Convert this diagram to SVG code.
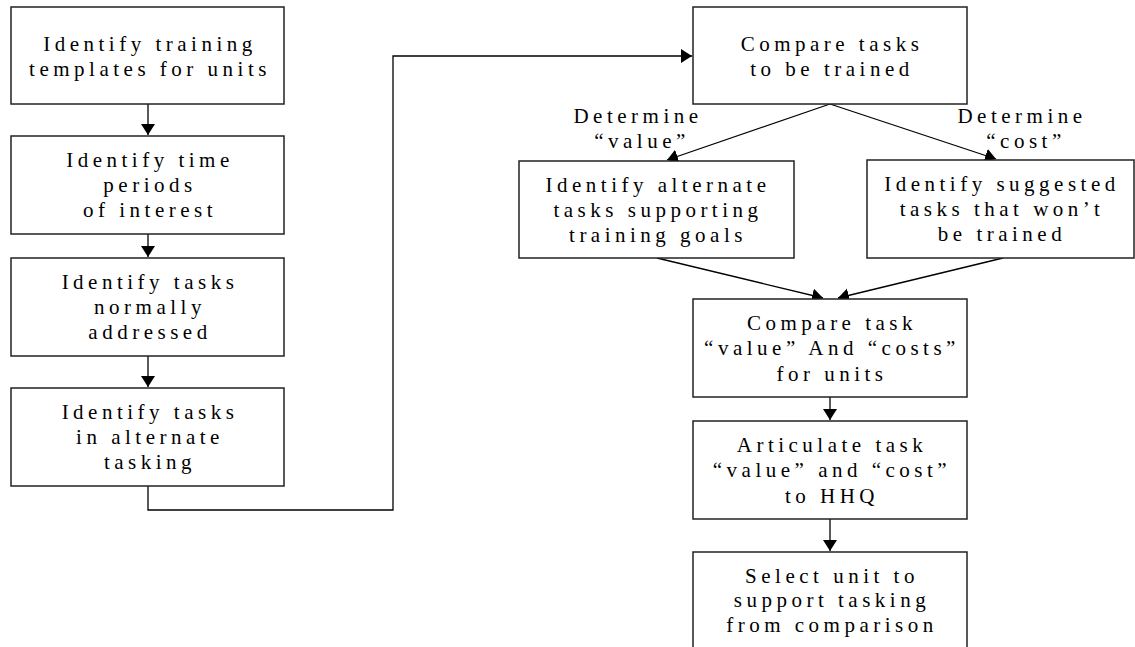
<svg xmlns="http://www.w3.org/2000/svg" width="1135" height="647" viewBox="0 0 1135 647">
<style>
.box{fill:#fff;stroke:#222;stroke-width:1.5}
.t{font-family:"Liberation Serif","Times New Roman",serif;font-size:21px;letter-spacing:4.5px;fill:#000;text-anchor:middle}
.c{fill:none;stroke:#000;stroke-width:1.3}
</style>
<defs>
<marker id="ah" markerUnits="userSpaceOnUse" markerWidth="12" markerHeight="15" refX="11" refY="7" orient="auto" viewBox="0 0 12 15">
<path d="M0,0 L11,7 L0,14 z" fill="#000"/>
</marker>
</defs>
<g id="connectors">
<path class="c" d="M148,104 V135" marker-end="url(#ah)"/>
<path class="c" d="M148,234 V257" marker-end="url(#ah)"/>
<path class="c" d="M148,356 V387" marker-end="url(#ah)"/>
<path class="c" d="M148,486 V510 H393 V56 H692" marker-end="url(#ah)"/>
<path class="c" d="M830,104 L667,160" marker-end="url(#ah)"/>
<path class="c" d="M830,104 L996,159" marker-end="url(#ah)"/>
<path class="c" d="M657,258 L823,298" marker-end="url(#ah)"/>
<path class="c" d="M1003,258 L838,298" marker-end="url(#ah)"/>
<path class="c" d="M830,397 V420" marker-end="url(#ah)"/>
<path class="c" d="M830,519 V551" marker-end="url(#ah)"/>
<text class="t" x="638" y="123">Determine</text>
<text class="t" x="642" y="148">“value”</text>
<text class="t" x="1022" y="123">Determine</text>
<text class="t" x="1026" y="148">“cost”</text>
</g>
<g id="n1">
<rect class="box" x="11" y="7" width="273" height="97"/>
<text class="t" x="150" y="51">Identify training</text>
<text class="t" x="150" y="76">templates for units</text>
</g>
<g id="n2">
<rect class="box" x="11" y="136" width="273" height="98"/>
<text class="t" x="150" y="167">Identify time</text>
<text class="t" x="150" y="192">periods</text>
<text class="t" x="150" y="217">of interest</text>
</g>
<g id="n3">
<rect class="box" x="11" y="258" width="273" height="98"/>
<text class="t" x="150" y="289">Identify tasks</text>
<text class="t" x="150" y="314">normally</text>
<text class="t" x="150" y="339">addressed</text>
</g>
<g id="n4">
<rect class="box" x="11" y="388" width="273" height="98"/>
<text class="t" x="150" y="419">Identify tasks</text>
<text class="t" x="150" y="444">in alternate</text>
<text class="t" x="150" y="469">tasking</text>
</g>
<g id="n5">
<rect class="box" x="693" y="7" width="274" height="97"/>
<text class="t" x="832" y="51">Compare tasks</text>
<text class="t" x="832" y="76">to be trained</text>
</g>
<g id="n6">
<rect class="box" x="519" y="161" width="275" height="97"/>
<text class="t" x="658" y="192">Identify alternate</text>
<text class="t" x="658" y="217">tasks supporting</text>
<text class="t" x="658" y="242">training goals</text>
</g>
<g id="n7">
<rect class="box" x="867" y="160" width="267" height="98"/>
<text class="t" x="1002" y="191">Identify suggested</text>
<text class="t" x="1002" y="216">tasks that won’t</text>
<text class="t" x="1002" y="241">be trained</text>
</g>
<g id="n8">
<rect class="box" x="693" y="299" width="274" height="98"/>
<text class="t" x="832" y="330">Compare task</text>
<text class="t" x="832" y="355">“value” And “costs”</text>
<text class="t" x="832" y="381">for units</text>
</g>
<g id="n9">
<rect class="box" x="693" y="421" width="274" height="98"/>
<text class="t" x="832" y="452">Articulate task</text>
<text class="t" x="832" y="477">“value” and “cost”</text>
<text class="t" x="832" y="503">to HHQ</text>
</g>
<g id="n10">
<rect class="box" x="693" y="552" width="274" height="110"/>
<text class="t" x="832" y="583">Select unit to</text>
<text class="t" x="832" y="607">support tasking</text>
<text class="t" x="832" y="632">from comparison</text>
</g>
</svg>
